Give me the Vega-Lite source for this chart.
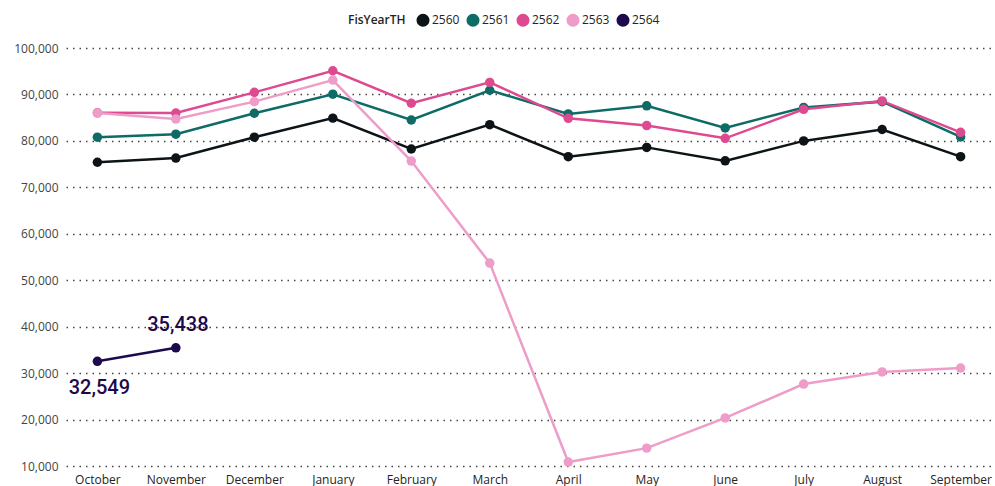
{
  "$schema": "https://vega.github.io/schema/vega-lite/v6.json",
  "width": 926,
  "height": 418,
  "autosize": "none",
  "padding": {"left": 66, "top": 48, "right": 3, "bottom": 20},
  "background": "white",
  "config": {
    "view": {"stroke": null},
    "font": "Open Sans"
  },
  "data": {
    "values": [
      {"month": "October", "year": "2560", "value": 75400},
      {"month": "November", "year": "2560", "value": 76300},
      {"month": "December", "year": "2560", "value": 80800},
      {"month": "January", "year": "2560", "value": 84900},
      {"month": "February", "year": "2560", "value": 78250},
      {"month": "March", "year": "2560", "value": 83500},
      {"month": "April", "year": "2560", "value": 76600},
      {"month": "May", "year": "2560", "value": 78600},
      {"month": "June", "year": "2560", "value": 75700},
      {"month": "July", "year": "2560", "value": 80000},
      {"month": "August", "year": "2560", "value": 82450},
      {"month": "September", "year": "2560", "value": 76600},
      {"month": "October", "year": "2561", "value": 80800},
      {"month": "November", "year": "2561", "value": 81450},
      {"month": "December", "year": "2561", "value": 85950},
      {"month": "January", "year": "2561", "value": 90050},
      {"month": "February", "year": "2561", "value": 84500},
      {"month": "March", "year": "2561", "value": 90900},
      {"month": "April", "year": "2561", "value": 85800},
      {"month": "May", "year": "2561", "value": 87550},
      {"month": "June", "year": "2561", "value": 82800},
      {"month": "July", "year": "2561", "value": 87200},
      {"month": "August", "year": "2561", "value": 88450},
      {"month": "September", "year": "2561", "value": 80850},
      {"month": "October", "year": "2562", "value": 86050},
      {"month": "November", "year": "2562", "value": 86000},
      {"month": "December", "year": "2562", "value": 90450},
      {"month": "January", "year": "2562", "value": 95100},
      {"month": "February", "year": "2562", "value": 88100},
      {"month": "March", "year": "2562", "value": 92600},
      {"month": "April", "year": "2562", "value": 84850},
      {"month": "May", "year": "2562", "value": 83300},
      {"month": "June", "year": "2562", "value": 80550},
      {"month": "July", "year": "2562", "value": 86800},
      {"month": "August", "year": "2562", "value": 88600},
      {"month": "September", "year": "2562", "value": 81850},
      {"month": "October", "year": "2563", "value": 86000},
      {"month": "November", "year": "2563", "value": 84700},
      {"month": "December", "year": "2563", "value": 88450},
      {"month": "January", "year": "2563", "value": 93100},
      {"month": "February", "year": "2563", "value": 75650},
      {"month": "March", "year": "2563", "value": 53700},
      {"month": "April", "year": "2563", "value": 10850},
      {"month": "May", "year": "2563", "value": 13850},
      {"month": "June", "year": "2563", "value": 20350},
      {"month": "July", "year": "2563", "value": 27650},
      {"month": "August", "year": "2563", "value": 30250},
      {"month": "September", "year": "2563", "value": 31100},
      {"month": "October", "year": "2564", "value": 32549},
      {"month": "November", "year": "2564", "value": 35438}
    ]
  },
  "encoding": {
    "x": {
      "field": "month",
      "type": "ordinal",
      "sort": ["October", "November", "December", "January", "February", "March", "April", "May", "June", "July", "August", "September"],
      "scale": {"type": "point", "padding": 0.4},
      "axis": {
        "title": null,
        "labelAngle": 0,
        "domain": false,
        "ticks": false,
        "grid": false,
        "labelFont": "Open Sans",
        "labelFontSize": 12,
        "labelColor": "#252423",
        "labelPadding": 8
      }
    },
    "y": {
      "field": "value",
      "type": "quantitative",
      "scale": {"domain": [10000, 100000], "nice": false, "zero": false},
      "axis": {
        "title": null,
        "values": [10000, 20000, 30000, 40000, 50000, 60000, 70000, 80000, 90000, 100000],
        "format": ",.0f",
        "domain": false,
        "ticks": false,
        "grid": true,
        "gridDash": [1.5, 5],
        "gridColor": "#444444",
        "gridWidth": 1.5,
        "labelFont": "Open Sans",
        "labelFontSize": 12,
        "labelColor": "#444444",
        "labelPadding": 8
      }
    },
    "color": {
      "field": "year",
      "type": "nominal",
      "scale": {
        "domain": ["2560", "2561", "2562", "2563", "2564"],
        "range": ["#0C1417", "#0E6B66", "#DE4A8F", "#EE9CC8", "#1C0A4D"]
      },
      "legend": {
        "title": "FisYearTH",
        "orient": "none",
        "legendX": 282,
        "legendY": -35,
        "direction": "horizontal",
        "titleOrient": "left",
        "titleFont": "Open Sans",
        "titleFontSize": 12,
        "titleFontWeight": 600,
        "titleColor": "#252423",
        "titlePadding": 10,
        "labelFont": "Open Sans",
        "labelFontSize": 12,
        "labelColor": "#252423",
        "symbolType": "circle",
        "symbolSize": 170,
        "symbolStrokeWidth": 0,
        "labelOffset": 2,
        "columnPadding": 6
      }
    }
  },
  "layer": [
    {
      "mark": {"type": "line", "strokeWidth": 2.5},
      "encoding": {}
    },
    {
      "mark": {"type": "point", "filled": true, "size": 90, "opacity": 1},
      "encoding": {}
    },
    {
      "transform": [{"filter": "datum.year == '2564' && datum.month == 'October'"}],
      "mark": {"type": "text", "dy": 27, "dx": 2, "font": "Roboto", "fontSize": 20, "fontWeight": 500, "color": "#1C0A4D"},
      "encoding": {
        "text": {"field": "value", "type": "quantitative", "format": ",.0f"},
        "color": {"value": "#1C0A4D"}
      }
    },
    {
      "transform": [{"filter": "datum.year == '2564' && datum.month == 'November'"}],
      "mark": {"type": "text", "dy": -23, "dx": 2, "font": "Roboto", "fontSize": 20, "fontWeight": 500, "color": "#1C0A4D"},
      "encoding": {
        "text": {"field": "value", "type": "quantitative", "format": ",.0f"},
        "color": {"value": "#1C0A4D"}
      }
    }
  ]
}
